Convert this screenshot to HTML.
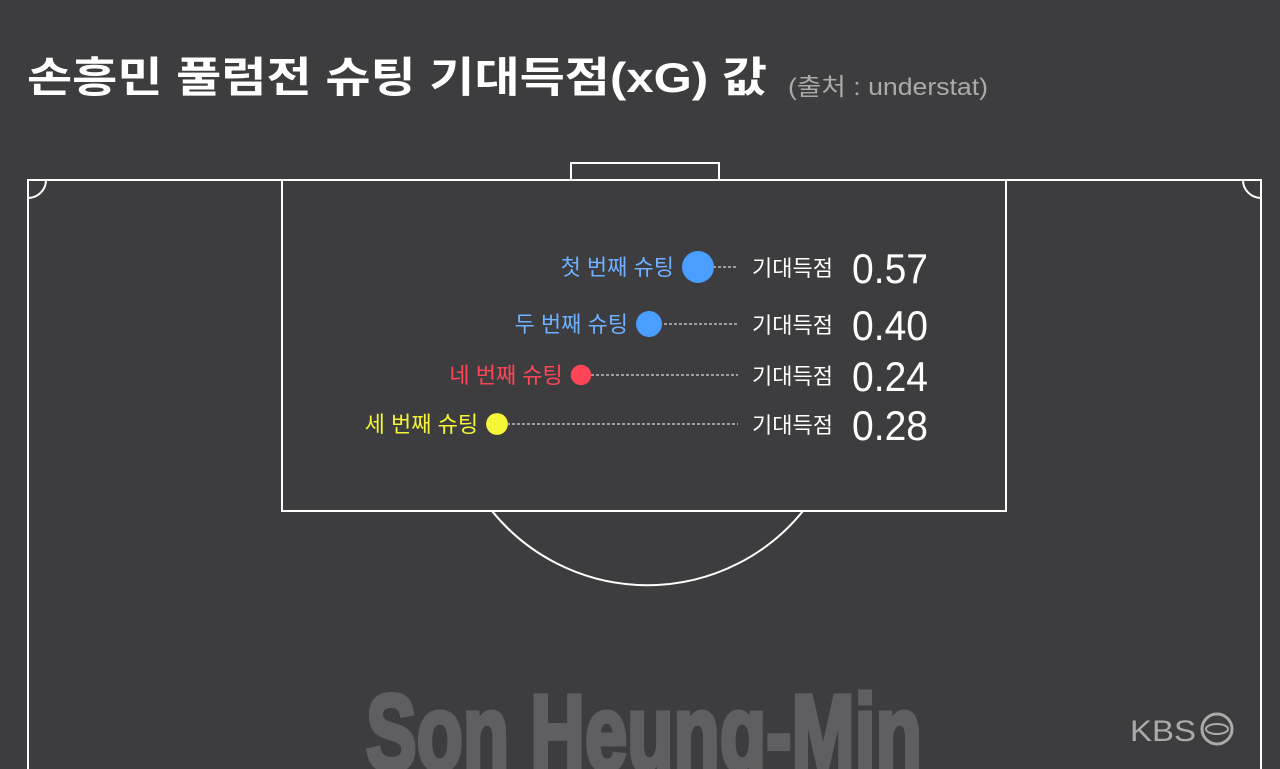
<!DOCTYPE html>
<html><head><meta charset="utf-8"><style>
html,body{margin:0;padding:0;background:#3d3d3f;width:1280px;height:769px;overflow:hidden}
svg{display:block}
</style></head><body>
<svg id="chart" width="1280" height="769" viewBox="0 0 1280 769" font-family="'Liberation Sans','Noto Sans CJK KR',sans-serif">
<rect width="1280" height="769" fill="#3d3d3f"/>
<text x="27" y="92" fill="#fff" font-size="42" font-weight="bold" textLength="740" lengthAdjust="spacingAndGlyphs" font-family="'Liberation Sans','Noto Sans CJK KR',sans-serif">손흥민 풀럼전 슈팅 기대득점(xG) 값</text>
<text x="788" y="95" fill="#aaa" font-size="24" textLength="200" lengthAdjust="spacingAndGlyphs">(출처 : understat)</text>
<text x="366" y="770" fill="#5f5f61" stroke="#5f5f61" stroke-width="5" font-size="108" font-weight="bold" textLength="556" lengthAdjust="spacingAndGlyphs" font-family="'Liberation Sans Narrow','Liberation Sans',sans-serif">Son Heung-Min</text>
<g>
<text x="1130" y="741" fill="#aaa" font-size="30" textLength="66" lengthAdjust="spacingAndGlyphs" font-family="'Liberation Sans Narrow','Liberation Sans',sans-serif">KBS</text>
<circle cx="1217" cy="729" r="15" fill="none" stroke="#aaa" stroke-width="3"/>
<ellipse cx="1217" cy="729" rx="11" ry="5" fill="none" stroke="#aaa" stroke-width="2"/>
</g>
<g fill="none" stroke="#fff" stroke-width="2">
<path d="M28,769 L28,180 L1261,180 L1261,769"/>
<path d="M28,198 A18,18 0 0 0 46,180"/>
<path d="M1243,180 A18,18 0 0 0 1261,198"/>
<path d="M571,180 L571,163 L719,163 L719,180"/>
<rect x="282" y="180" width="724" height="331"/>
<path d="M492,511 A200,200 0 0 0 803,511"/>
</g>
<g id="shots"></g>
</svg>
<script>
const shotLabels = ["첫 번째 슈팅","두 번째 슈팅","네 번째 슈팅","세 번째 슈팅"];
const xgValues = [0.57,0.40,0.24,0.28];
const shotX = [698,649,581,497];
const shotColors = ["#4a9eff","#4a9eff","#ff4455","#f5f53a"];
const NS="http://www.w3.org/2000/svg";
const g=document.getElementById('shots');
const rScale=v=>6+17.5*v;
function mk(t,a){const e=document.createElementNS(NS,t);for(const k in a)e.setAttribute(k,a[k]);g.appendChild(e);return e;}
shotLabels.forEach((lab,i)=>{
  const y=[267,324,375,424][i];
  const x=shotX[i], r=rScale(xgValues[i]);
  const line=mk('line',{x1:x,y1:y,x2:738,y2:y,stroke:'#fff','stroke-width':1,'stroke-dasharray':'3,2'});
  
  
  const c=mk('circle',{cx:x,cy:y,r:r,fill:shotColors[i]});
  
  
  const t=mk('text',{x:x-r-8,y:y+8,fill:shotColors[i]==="#4a9eff"?"#6fb0ff":shotColors[i],'font-size':22,'text-anchor':'end'});
  t.textContent=lab;
  
  
  const k=mk('text',{x:752,y:y+9,fill:'#fff','font-size':22});
  k.textContent='기대득점';
  
  
  const v=mk('text',{x:852,y:y+16,fill:'#fff','font-size':42,textLength:76,lengthAdjust:'spacingAndGlyphs','font-family':"'Liberation Sans Narrow','Liberation Sans',sans-serif"});
  v.textContent=xgValues[i].toFixed(2);
  
  
});
</script>
</body></html>
